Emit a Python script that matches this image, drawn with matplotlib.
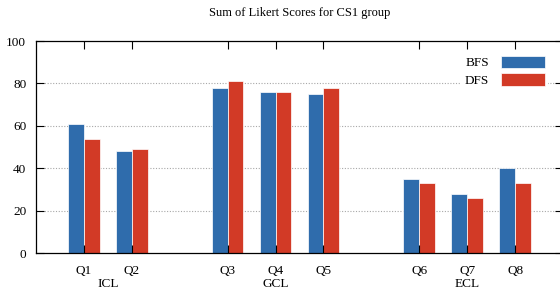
import numpy as np
import matplotlib.pyplot as plt

# data
questions = ['Q1', 'Q2', 'Q3', 'Q4', 'Q5', 'Q6', 'Q7', 'Q8']
positions = [0, 1, 3, 4, 5, 7, 8, 9]
bfs = [61, 48, 78, 76, 75, 35, 28, 40]
dfs = [54, 49, 81, 76, 78, 33, 26, 33]
groups = ['ICL', 'GCL', 'ECL']
group_pos = [0.5, 4, 8]
yticks = [0, 20, 40, 60, 80, 100]

blue = '#2f6cac'
red = '#d23a26'

plt.rcParams['font.family'] = ['Liberation Serif', 'DejaVu Serif']

fig = plt.figure(figsize=(5.6, 2.92), dpi=100)
ax = fig.add_axes([36 / 560, 39 / 292, 527 / 560, 212 / 292])

x = np.array(positions, dtype=float)
w = 0.33
ax.bar(x - w / 2, bfs, width=w, color=blue, edgecolor='white', linewidth=0.5,
       label='BFS', zorder=1)
ax.bar(x + w / 2, dfs, width=w, color=red, edgecolor='white', linewidth=0.5,
       label='DFS', zorder=1)

# dotted grid behind the bars
for yv in yticks[1:-1]:
    ax.axhline(yv, color='#a8a8a8', linestyle=(0, (1, 1.5)), linewidth=0.8,
               zorder=0.5)

ax.set_xlim(-1, 10)
ax.set_ylim(0, 100)
ax.set_yticks(yticks)
ax.set_xticks(x)
ax.set_xticklabels(questions)
ax.tick_params(axis='both', direction='in', length=6, width=0.8,
               labelsize=9.5, colors='black')
ax.tick_params(axis='x', top=True, pad=9)
ax.tick_params(axis='y', right=True, pad=7)
for s in ax.spines.values():
    s.set_linewidth(0.9)

for g, gp in zip(groups, group_pos):
    ax.text(gp, -0.145, g, transform=ax.get_xaxis_transform(),
            ha='center', va='center', fontsize=9.5)

fig.text(0.536, 1 - 13 / 292, 'Sum of Likert Scores for CS1 group',
         ha='center', va='center', fontsize=9)

leg = ax.legend(loc='upper right', bbox_to_anchor=(0.985, 0.98),
                markerfirst=False, frameon=True, fancybox=False,
                edgecolor='none', facecolor='white', framealpha=1,
                fontsize=9.5, handlelength=3.3, handleheight=1.05,
                labelspacing=0.3, handletextpad=0.9, borderpad=0.3)

fig.savefig('out.png', dpi=100)
